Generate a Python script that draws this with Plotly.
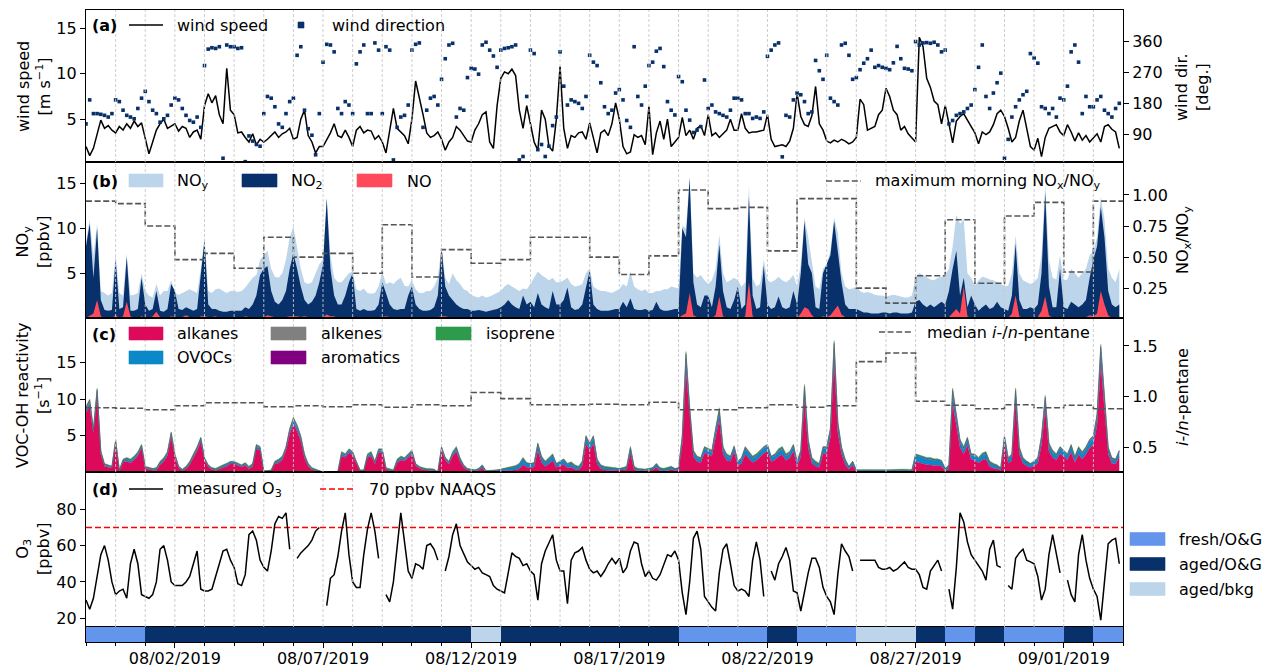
import plotly.graph_objects as go
import pandas as pd

# ---------------- DATA (3-hourly values, one row per day, 07/30 .. 09/02) ----------------
START = "2019-07-30"
END = "2019-09-03"

wind_speed = [
    [2.0, 1.0, 1.8, 3.5, 4.9, 4.0, 4.3, 3.8], [3.5, 4.2, 3.8, 4.5, 4.0, 4.8, 4.2, 4.6],
    [3.0, 1.2, 2.5, 3.8, 4.5, 5.0, 4.0, 4.3], [4.5, 3.7, 4.2, 4.0, 3.0, 3.6, 3.8, 2.8],
    [6.5, 7.8, 6.8, 7.6, 5.5, 4.5, 10.6, 6.0], [5.5, 3.5, 3.6, 3.0, 2.5, 3.4, 2.2, 2.8],
    [2.5, 2.8, 3.2, 3.6, 3.0, 3.4, 3.6, 4.0], [2.8, 3.0, 5.0, 6.0, 3.2, 2.5, 1.3, 2.0],
    [2.0, 2.8, 3.5, 4.5, 3.2, 3.0, 3.8, 3.0], [2.0, 3.8, 4.2, 3.5, 3.8, 3.7, 2.8, 3.2],
    [2.5, 1.3, 4.0, 6.2, 4.0, 3.6, 3.2, 2.3], [5.0, 9.2, 7.5, 5.5, 3.5, 3.0, 3.2, 3.6],
    [2.8, 1.6, 2.5, 3.0, 4.2, 3.8, 3.2, 2.6], [2.5, 3.8, 4.5, 5.5, 5.8, 2.5, 1.8, 6.5],
    [9.5, 10.2, 10.0, 10.5, 9.8, 6.0, 4.0, 6.5], [4.5, 2.5, 1.6, 6.0, 5.0, 2.0, 1.5, 5.0],
    [10.8, 4.0, 1.8, 3.2, 3.0, 3.5, 3.6, 2.8], [4.6, 3.0, 1.3, 3.5, 3.8, 3.2, 4.5, 6.8],
    [5.0, 2.0, 1.2, 1.4, 3.3, 3.0, 3.2, 2.2], [6.4, 1.1, 3.5, 4.8, 2.8, 5.0, 2.0, 2.5],
    [3.0, 5.2, 3.2, 3.8, 2.8, 4.0, 4.3, 3.2], [5.5, 3.2, 3.5, 3.0, 3.4, 3.8, 5.0, 3.8],
    [3.8, 5.6, 4.0, 3.5, 3.6, 3.6, 3.7, 3.8], [5.5, 2.8, 2.0, 2.1, 2.2, 2.0, 2.6, 4.0],
    [7.8, 5.3, 4.4, 4.2, 5.4, 8.6, 4.5, 3.8], [2.6, 2.4, 2.7, 2.5, 2.8, 2.6, 2.3, 2.5],
    [3.0, 7.2, 6.6, 3.8, 4.0, 4.2, 5.5, 6.0], [8.4, 7.5, 6.0, 5.5, 3.8, 4.2, 3.4, 3.0],
    [2.5, 14.0, 13.0, 9.5, 8.5, 7.0, 6.6, 4.5], [6.5, 4.5, 2.4, 4.8, 5.3, 5.6, 4.9, 4.3],
    [3.5, 2.3, 3.6, 3.3, 3.6, 4.4, 5.6, 6.0], [5.3, 4.0, 2.5, 3.0, 4.8, 6.0, 3.8, 2.0],
    [1.6, 2.9, 0.9, 3.0, 4.0, 4.2, 4.4, 3.6], [3.2, 4.4, 3.6, 2.6, 3.5, 2.7, 3.2, 2.5],
    [2.9, 3.4, 2.5, 4.2, 4.4, 3.9, 3.6, 1.8],
]

wind_dir = [
    [120, 190, 150, 150, 148, 145, 140, 150], [190, 185, 160, 145, 140, 135, 165, 195],
    [215, 185, 160, 150, 125, 135, 145, 175], [195, 190, 165, 145, 130, 125, 140, 110],
    [290, 338, 342, 340, 345, 20, 350, 345], [345, 340, 342, 10, 85, 70, 60, 55],
    [150, 200, 195, 170, 120, 110, 150, 185], [195, 320, 345, 160, 106, 87, 30, 150],
    [300, 352, 350, 330, 165, 150, 185, 175], [150, 295, 330, 350, 150, 150, 356, 335],
    [150, 345, 335, 15, 110, 140, 145, 175], [335, 352, 356, 110, 160, 195, 200, 175],
    [250, 310, 350, 355, 140, 165, 160, 255], [282, 280, 265, 350, 358, 335, 318, 285],
    [335, 340, 342, 345, 350, 15, 25, 200], [335, 325, 45, 60, 25, 55, 115, 140],
    [330, 230, 175, 190, 185, 180, 165, 200], [320, 300, 290, 240, 170, 150, 160, 210],
    [220, 190, 130, 110, 345, 200, 175, 230], [290, 300, 332, 340, 287, 185, 160, 146],
    [258, 243, 160, 131, 95, 102, 112, 248], [165, 175, 155, 150, 145, 140, 160, 195],
    [195, 190, 150, 150, 136, 140, 136, 155], [317, 335, 350, 356, 24, 145, 140, 190],
    [210, 205, 185, 150, 155, 305, 275, 250], [320, 195, 185, 175, 350, 355, 320, 250],
    [255, 278, 297, 310, 335, 285, 290, 285], [282, 278, 298, 346, 310, 282, 280, 275],
    [360, 350, 356, 357, 355, 358, 350, 330], [335, 120, 130, 145, 150, 155, 165, 175],
    [220, 285, 350, 200, 165, 210, 240, 268], [20, 75, 140, 170, 190, 205, 215, 325],
    [312, 297, 170, 165, 150, 165, 140, 195], [190, 230, 330, 350, 300, 150, 200, 170],
    [170, 190, 200, 160, 150, 140, 165, 180],
]

noy = [
    [8.5, 11.0, 7.0, 10.5, 3.0, 2.8, 2.5, 2.8], [7.0, 2.8, 2.5, 7.2, 2.5, 2.6, 2.8, 5.0],
    [3.0, 2.5, 2.3, 3.8, 2.5, 3.0, 3.0, 4.2], [2.8, 2.6, 2.8, 3.0, 3.2, 3.0, 2.8, 5.5],
    [9.0, 3.0, 2.8, 3.2, 3.3, 3.0, 2.8, 3.0], [3.0, 2.9, 3.0, 3.4, 4.0, 4.5, 4.8, 6.5],
    [7.0, 7.5, 5.5, 4.6, 4.5, 5.0, 6.5, 9.0], [10.2, 8.0, 5.5, 4.0, 3.8, 4.0, 5.0, 6.0],
    [6.5, 13.5, 7.0, 4.5, 4.0, 4.0, 4.5, 5.0], [5.2, 3.2, 3.0, 3.3, 2.8, 2.7, 2.8, 3.5],
    [5.2, 3.8, 4.0, 3.8, 4.2, 4.5, 3.6, 3.5], [4.2, 3.2, 2.8, 2.8, 3.0, 3.0, 3.5, 4.5],
    [8.0, 4.5, 3.8, 5.0, 4.2, 3.8, 3.2, 3.0], [2.6, 2.4, 2.3, 2.5, 2.3, 2.4, 2.6, 2.8],
    [3.0, 3.5, 3.8, 3.5, 3.2, 3.0, 3.3, 3.2], [3.8, 4.5, 5.2, 4.8, 4.5, 4.2, 4.5, 4.0],
    [4.0, 4.2, 4.5, 3.8, 3.5, 3.6, 3.8, 5.0], [5.5, 3.5, 3.2, 3.0, 3.0, 2.9, 2.8, 3.0],
    [3.2, 3.8, 3.5, 5.2, 3.5, 3.2, 3.0, 3.2], [2.8, 2.8, 3.0, 3.0, 3.2, 3.2, 3.5, 3.4],
    [3.3, 10.3, 10.0, 15.8, 5.0, 4.5, 4.8, 4.2], [3.8, 4.2, 5.5, 9.3, 5.0, 4.0, 4.2, 4.5],
    [4.2, 3.5, 4.0, 14.8, 4.5, 3.5, 3.8, 6.5], [4.2, 4.0, 4.2, 4.6, 4.2, 4.0, 4.3, 4.8],
    [3.5, 6.0, 11.2, 9.0, 6.5, 3.5, 3.2, 5.5], [6.0, 7.5, 11.2, 9.5, 5.0, 3.5, 3.2, 3.3],
    [3.5, 3.0, 2.8, 2.9, 2.8, 2.6, 2.5, 2.5], [2.4, 2.5, 2.6, 2.5, 2.4, 2.3, 2.3, 2.5],
    [4.6, 5.0, 4.8, 4.5, 4.3, 4.2, 4.5, 4.6], [4.8, 5.5, 8.0, 11.5, 10.5, 11.0, 5.0, 4.5],
    [3.6, 4.2, 4.6, 4.5, 4.3, 4.2, 4.0, 3.8], [3.5, 3.6, 5.0, 9.2, 5.0, 4.2, 4.0, 3.8],
    [4.0, 4.5, 7.0, 15.0, 6.5, 4.5, 4.3, 7.0], [4.2, 4.3, 5.5, 5.0, 4.5, 5.0, 5.5, 7.0],
    [7.5, 9.0, 13.5, 11.0, 5.5, 4.5, 4.0, 5.5],
]

no2 = [
    [8.0, 10.5, 4.5, 10.0, 2.0, 0.9, 0.8, 0.9], [6.5, 1.0, 1.2, 6.8, 0.8, 0.8, 1.0, 4.5],
    [1.5, 0.8, 1.0, 3.0, 0.8, 0.7, 1.0, 3.8], [3.0, 1.0, 0.9, 1.2, 1.0, 0.8, 1.0, 5.0],
    [8.7, 1.5, 1.0, 1.0, 0.8, 0.7, 0.7, 0.8], [0.8, 0.8, 0.8, 1.2, 1.0, 1.5, 2.5, 4.8],
    [5.5, 5.8, 3.0, 1.8, 1.5, 2.0, 3.0, 5.5], [7.2, 5.5, 3.5, 2.0, 1.5, 1.8, 2.5, 4.0],
    [6.0, 13.3, 5.5, 2.5, 1.5, 1.5, 2.5, 4.0], [5.0, 1.0, 0.8, 1.0, 0.8, 0.8, 0.9, 1.5],
    [4.0, 2.8, 1.5, 1.0, 0.9, 1.0, 1.0, 2.5], [3.5, 1.5, 1.0, 0.8, 0.8, 0.9, 1.2, 2.5],
    [7.8, 3.5, 2.5, 2.0, 1.5, 1.2, 1.0, 1.0], [0.8, 0.8, 0.9, 0.8, 0.7, 0.8, 0.9, 1.0],
    [1.2, 1.5, 2.0, 1.5, 1.2, 1.0, 2.5, 1.5], [1.8, 1.2, 2.8, 1.5, 1.2, 1.0, 3.0, 1.5],
    [1.5, 2.0, 3.4, 1.2, 0.9, 1.0, 1.5, 3.5], [5.3, 1.5, 1.0, 0.8, 0.8, 0.8, 0.9, 1.0],
    [1.0, 1.8, 1.2, 2.2, 1.0, 0.9, 0.9, 1.0], [0.8, 0.9, 1.8, 1.0, 0.8, 0.8, 0.9, 1.0],
    [1.0, 10.0, 9.0, 15.6, 4.0, 1.5, 1.2, 2.5], [2.5, 1.2, 3.5, 8.2, 3.0, 1.2, 1.0, 2.0],
    [3.5, 1.0, 1.5, 13.5, 2.5, 1.0, 1.2, 5.8], [1.5, 1.0, 1.2, 2.4, 1.2, 1.0, 1.2, 3.0],
    [1.5, 5.0, 10.8, 6.0, 5.0, 1.2, 1.0, 5.0], [6.0, 7.0, 10.8, 7.5, 4.0, 1.5, 1.0, 1.0],
    [1.0, 0.8, 0.6, 0.6, 0.5, 0.5, 0.5, 0.6], [0.6, 0.5, 0.6, 0.6, 0.5, 0.5, 0.5, 0.6],
    [1.8, 2.0, 1.5, 1.2, 1.5, 1.2, 1.5, 1.8], [1.5, 3.0, 5.5, 7.5, 2.5, 4.5, 1.2, 2.5],
    [1.5, 0.8, 1.2, 1.5, 1.0, 1.2, 1.8, 1.2], [1.0, 0.8, 2.5, 8.3, 2.0, 1.0, 1.0, 1.2],
    [1.0, 1.5, 5.0, 14.0, 3.5, 1.2, 1.2, 5.5], [1.2, 1.0, 1.8, 1.5, 1.2, 1.5, 2.0, 4.5],
    [6.5, 8.0, 12.4, 9.0, 3.0, 1.5, 1.2, 1.5],
]

no = [
    [0, 0.3, 0.5, 2.0, 0.2, 0, 0, 0], [0.3, 0, 0.2, 1.8, 0.2, 0, 0, 0.2],
    [0, 0, 0.2, 0.7, 0.1, 0, 0, 0.2], [0.1, 0, 0.1, 0.3, 0.1, 0, 0, 0.2],
    [0.2, 0.1, 0.1, 0.2, 0, 0, 0, 0], [0, 0, 0, 0.2, 0.1, 0, 0, 0.1],
    [0.1, 0.3, 0.2, 0.1, 0.1, 0.1, 0.1, 0.2], [0.2, 0.2, 0.1, 0.2, 0.1, 0, 0, 0.1],
    [0.1, 0.4, 0.2, 0.2, 0, 0, 0, 0], [0.1, 0, 0, 0.1, 0, 0, 0, 0],
    [0.1, 0.2, 0.1, 0, 0, 0, 0, 0.1], [0.1, 0, 0, 0, 0, 0, 0, 0.1],
    [0.2, 0.2, 0.1, 0.1, 0, 0, 0, 0], [0, 0, 0, 0, 0, 0, 0, 0],
    [0, 0, 0.1, 0.1, 0, 0, 0, 0], [0, 0, 0.1, 0, 0, 0, 0, 0],
    [0, 0, 0.1, 0, 0, 0, 0, 0], [0.1, 0, 0, 0, 0, 0, 0, 0],
    [0, 0, 0, 0.1, 0, 0, 0, 0], [0, 0, 0, 0, 0, 0, 0, 0],
    [0, 0.3, 0.5, 2.8, 0.3, 0.1, 0, 0.1], [0, 0, 0.3, 2.4, 0.2, 0, 0, 0],
    [0, 0, 0.2, 4.0, 0.2, 0, 0, 0.1], [0, 0, 0, 0.2, 0, 0, 0, 0.1],
    [0, 0.5, 1.2, 1.0, 0.3, 0, 0, 0.2], [0.1, 0.3, 0.8, 1.4, 0.4, 0.1, 0, 0],
    [0, 0, 0, 0, 0, 0, 0, 0], [0, 0, 0, 0, 0, 0, 0, 0],
    [0, 0.1, 0.1, 0, 0, 0, 0, 0], [0, 0.1, 0.5, 1.0, 0.5, 3.5, 0.2, 0],
    [0, 0, 0, 0, 0, 0, 0, 0], [0, 0, 0.5, 2.5, 0.2, 0, 0, 0],
    [0, 0.1, 0.8, 2.4, 0.3, 0, 0, 0.1], [0, 0, 0.1, 0.1, 0, 0, 0.1, 0.3],
    [0.2, 0.5, 3.0, 1.5, 0.3, 0, 0, 0],
]

max_morning_nox_noy = [0.95, 0.93, 0.75, 0.48, 0.53, 0.41, 0.66, 0.50, 0.53, 0.37,
                       0.76, 0.34, 0.56, 0.45, 0.48, 0.66, 0.66, 0.50, 0.36, 0.51,
                       1.04, 0.89, 0.90, 0.55, 0.97, 0.97, 0.25, 0.13, 0.35, 0.80,
                       0.29, 0.83, 0.94, 0.38, 0.95]

alkanes = [
    [8.2, 9.0, 5.3, 10.4, 2.4, 0.8, 0.65, 0.55], [3.9, 0.12, 1.35, 1.45, 1.25, 1.65, 2.2, 3.25],
    [0.5, 0.37, 0.23, 0.25, 1.0, 1.45, 2.25, 4.75], [2.05, 0.55, 0.17, 0.45, 1.0, 1.95, 2.9, 4.15],
    [1.6, 0.72, 0.35, 0.2, 0.4, 0.57, 0.8, 1.1], [1.1, 0.88, 0.7, 0.9, 0.4, 0.75, 3.2, 2.95],
    [0.08, 0.08, 0.12, 1.1, 1.25, 1.65, 2.9, 5.2], [6.55, 5.6, 4.2, 1.9, 0.75, 0.3, 0.18, 0.14],
    [0, 0, 0, 0, 0, 2.2, 2.0, 2.65], [2.3, 1.15, 0.12, 0.1, 1.95, 2.2, 1.1, 2.65],
    [2.65, 0.37, 0.18, 0.1, 1.25, 1.65, 1.5, 2.0], [2.5, 0.85, 0.5, 0.3, 0.2, 0.2, 0.18, 0],
    [2.95, 1.6, 1.1, 2.2, 2.8, 1.45, 0.6, 0.28], [0.2, 0.13, 0.25, 0.55, 0.05, 0.05, 0.13, 0.13],
    [0.13, 0.17, 0.2, 0.25, 0.27, 0.45, 1.0, 0.65], [0.57, 0.67, 2.9, 1.33, 0.74, 1.12, 1.54, 0.6],
    [0.86, 1.04, 0.58, 0.66, 0.37, 0.27, 0.82, 3.87], [3.0, 3.87, 1.1, 0.45, 0.29, 0.22, 0.22, 0.24],
    [0.22, 0.26, 0.37, 2.5, 0.32, 0.16, 0.12, 0.14], [0.22, 0.27, 0.66, 0.18, 0.13, 0.18, 0.37, 0.22],
    [0.26, 3.77, 13.9, 7.37, 2.08, 1.41, 1.27, 2.65], [2.36, 2.18, 4.68, 7.17, 2.45, 1.59, 1.46, 2.75],
    [0.84, 1.21, 2.4, 1.78, 1.31, 1.59, 2.03, 2.55], [2.84, 1.41, 1.64, 2.16, 2.35, 1.59, 1.93, 2.84],
    [0.84, 2.07, 9.92, 3.3, 1.21, 0.79, 0.6, 2.55], [2.55, 4.71, 15.35, 5.45, 2.45, 1.02, 0.37, 0.91],
    [0.03, 0.03, 0.02, 0.02, 0.02, 0.02, 0.03, 0.03], [0.03, 0.03, 0.03, 0.03, 0.03, 0.03, 0.03, 0.03],
    [1.42, 1.27, 1.17, 0.99, 0.96, 0.85, 0.93, 0.8], [0.17, 0.48, 9.43, 6.42, 3.32, 2.46, 3.66, 1.71],
    [1.61, 1.22, 1.64, 1.79, 0.74, 0.5, 0.45, 0.2], [3.88, 1.21, 1.54, 9.56, 2.45, 1.17, 0.82, 0.6],
    [0.84, 1.21, 3.73, 8.6, 2.82, 1.98, 1.65, 2.55], [2.07, 1.69, 2.69, 1.31, 2.35, 1.78, 2.4, 3.3],
    [3.78, 6.41, 14.75, 8.13, 2.45, 1.17, 1.11, 2.08],
]

ovocs = [
    [0.4, 0.5, 0.3, 0.5, 0.25, 0.15, 0.15, 0.12], [0.3, 0.1, 0.2, 0.25, 0.25, 0.25, 0.3, 0.3],
    [0.15, 0.12, 0.12, 0.15, 0.2, 0.25, 0.3, 0.4], [0.25, 0.15, 0.1, 0.15, 0.2, 0.25, 0.3, 0.35],
    [0.2, 0.15, 0.12, 0.12, 0.15, 0.18, 0.2, 0.2], [0.2, 0.18, 0.15, 0.2, 0.15, 0.2, 0.3, 0.3],
    [0.05, 0.05, 0.08, 0.2, 0.25, 0.25, 0.3, 0.4], [0.5, 0.45, 0.4, 0.3, 0.2, 0.12, 0.1, 0.08],
    [0, 0, 0, 0, 0, 0.3, 0.25, 0.3], [0.3, 0.2, 0.08, 0.08, 0.25, 0.3, 0.2, 0.3],
    [0.3, 0.12, 0.1, 0.08, 0.25, 0.25, 0.25, 0.3], [0.3, 0.2, 0.15, 0.12, 0.12, 0.12, 0.1, 0],
    [0.3, 0.25, 0.2, 0.3, 0.35, 0.25, 0.2, 0.12], [0.12, 0.1, 0.15, 0.3, 0.08, 0.08, 0.1, 0.1],
    [0.2, 0.25, 0.3, 0.4, 0.45, 0.55, 0.8, 0.5], [0.5, 0.5, 0.8, 0.6, 0.5, 0.6, 0.7, 0.45],
    [0.5, 0.6, 0.45, 0.5, 0.4, 0.35, 0.5, 0.8], [0.7, 0.8, 0.5, 0.35, 0.3, 0.3, 0.25, 0.25],
    [0.2, 0.25, 0.3, 0.7, 0.3, 0.2, 0.18, 0.18], [0.2, 0.25, 0.4, 0.25, 0.2, 0.25, 0.3, 0.2],
    [0.25, 0.9, 1.6, 1.0, 0.6, 0.5, 0.5, 0.6], [0.6, 0.6, 0.9, 1.0, 0.7, 0.6, 0.5, 0.6],
    [0.5, 0.6, 0.8, 0.7, 0.6, 0.6, 0.7, 0.7], [0.7, 0.6, 0.6, 0.7, 0.8, 0.6, 0.6, 0.7],
    [0.5, 0.7, 1.3, 0.8, 0.5, 0.45, 0.4, 0.7], [0.7, 0.9, 1.6, 1.0, 0.7, 0.5, 0.3, 0.45],
    [0.2, 0.2, 0.18, 0.2, 0.2, 0.2, 0.22, 0.2], [0.22, 0.2, 0.2, 0.22, 0.2, 0.22, 0.2, 0.2],
    [0.9, 0.85, 0.85, 0.8, 0.8, 0.75, 0.7, 0.65], [0.25, 0.4, 1.3, 1.0, 0.8, 0.7, 0.8, 0.6],
    [0.7, 0.6, 0.7, 0.7, 0.5, 0.45, 0.4, 0.3], [0.8, 0.6, 0.7, 1.2, 0.7, 0.55, 0.5, 0.45],
    [0.5, 0.6, 0.9, 1.2, 0.8, 0.7, 0.6, 0.7], [0.7, 0.6, 0.8, 0.6, 0.8, 0.7, 0.8, 0.9],
    [0.9, 1.1, 1.7, 1.2, 0.7, 0.55, 0.5, 0.7],
]

alkenes = [
    [0.2, 0.25, 0.15, 0.25, 0.08, 0.05, 0.05, 0.04], [0.1, 0.02, 0.05, 0.06, 0.06, 0.06, 0.08, 0.1],
    [0.04, 0.03, 0.03, 0.03, 0.05, 0.06, 0.08, 0.15], [0.07, 0.03, 0.02, 0.03, 0.05, 0.07, 0.1, 0.12],
    [0.06, 0.03, 0.02, 0.02, 0.03, 0.03, 0.04, 0.05], [0.05, 0.04, 0.03, 0.04, 0.03, 0.04, 0.1, 0.1],
    [0.01, 0.01, 0.01, 0.04, 0.05, 0.06, 0.1, 0.18], [0.22, 0.2, 0.15, 0.07, 0.04, 0.02, 0.01, 0.01],
    [0, 0, 0, 0, 0, 0.08, 0.07, 0.09], [0.08, 0.04, 0.01, 0.01, 0.07, 0.08, 0.04, 0.09],
    [0.09, 0.02, 0.01, 0.01, 0.05, 0.06, 0.06, 0.07], [0.08, 0.03, 0.02, 0.02, 0.01, 0.01, 0.01, 0],
    [0.1, 0.06, 0.04, 0.08, 0.1, 0.06, 0.03, 0.01], [0.01, 0.01, 0.01, 0.02, 0.01, 0.01, 0.01, 0.01],
    [0.01, 0.01, 0.02, 0.02, 0.02, 0.03, 0.05, 0.03], [0.03, 0.03, 0.12, 0.06, 0.04, 0.05, 0.07, 0.03],
    [0.04, 0.05, 0.03, 0.04, 0.03, 0.02, 0.04, 0.15], [0.12, 0.15, 0.05, 0.03, 0.02, 0.02, 0.02, 0.02],
    [0.01, 0.02, 0.02, 0.1, 0.02, 0.01, 0.01, 0.01], [0.01, 0.01, 0.03, 0.01, 0.01, 0.01, 0.02, 0.01],
    [0.02, 0.15, 0.45, 0.25, 0.08, 0.06, 0.05, 0.1], [0.09, 0.08, 0.18, 0.25, 0.1, 0.07, 0.06, 0.1],
    [0.04, 0.06, 0.1, 0.08, 0.06, 0.07, 0.08, 0.1], [0.11, 0.06, 0.07, 0.09, 0.1, 0.07, 0.08, 0.11],
    [0.04, 0.09, 0.35, 0.13, 0.06, 0.04, 0.03, 0.1], [0.1, 0.18, 0.5, 0.2, 0.1, 0.05, 0.02, 0.04],
    [0.01, 0.01, 0.01, 0.01, 0.01, 0.01, 0.01, 0.01], [0.01, 0.01, 0.01, 0.01, 0.01, 0.01, 0.01, 0.01],
    [0.05, 0.05, 0.04, 0.04, 0.04, 0.03, 0.03, 0.03], [0.01, 0.03, 0.35, 0.22, 0.12, 0.09, 0.13, 0.06],
    [0.06, 0.05, 0.07, 0.07, 0.04, 0.03, 0.02, 0.01], [0.15, 0.06, 0.07, 0.33, 0.1, 0.05, 0.04, 0.03],
    [0.04, 0.06, 0.15, 0.3, 0.12, 0.08, 0.07, 0.1], [0.09, 0.07, 0.11, 0.06, 0.1, 0.08, 0.1, 0.13],
    [0.15, 0.23, 0.5, 0.28, 0.1, 0.05, 0.05, 0.08],
]

aromatics = [
    [0.1, 0.12, 0.08, 0.12, 0.04, 0.03, 0.03, 0.02], [0.05, 0.01, 0.03, 0.03, 0.03, 0.03, 0.04, 0.05],
    [0.02, 0.02, 0.02, 0.02, 0.03, 0.03, 0.04, 0.08], [0.04, 0.02, 0.01, 0.02, 0.03, 0.04, 0.05, 0.06],
    [0.03, 0.02, 0.01, 0.01, 0.02, 0.02, 0.02, 0.03], [0.03, 0.02, 0.02, 0.02, 0.02, 0.02, 0.05, 0.05],
    [0.01, 0.01, 0.01, 0.02, 0.03, 0.03, 0.05, 0.09], [0.11, 0.1, 0.08, 0.04, 0.02, 0.01, 0.01, 0.01],
    [0, 0, 0, 0, 0, 0.04, 0.04, 0.05], [0.04, 0.02, 0.01, 0.01, 0.04, 0.04, 0.02, 0.05],
    [0.05, 0.01, 0.01, 0.01, 0.03, 0.03, 0.03, 0.04], [0.04, 0.02, 0.01, 0.01, 0.01, 0.01, 0.01, 0],
    [0.05, 0.03, 0.02, 0.04, 0.05, 0.03, 0.02, 0.01], [0.01, 0.01, 0.01, 0.01, 0.01, 0.01, 0.01, 0.01],
    [0.01, 0.01, 0.01, 0.01, 0.01, 0.02, 0.03, 0.02], [0.02, 0.02, 0.06, 0.03, 0.02, 0.03, 0.04, 0.02],
    [0.02, 0.03, 0.02, 0.02, 0.02, 0.01, 0.02, 0.08], [0.06, 0.08, 0.03, 0.02, 0.01, 0.01, 0.01, 0.01],
    [0.01, 0.01, 0.01, 0.05, 0.01, 0.01, 0.01, 0.01], [0.01, 0.01, 0.01, 0.01, 0.01, 0.01, 0.01, 0.01],
    [0.01, 0.08, 0.25, 0.13, 0.04, 0.03, 0.03, 0.05], [0.05, 0.04, 0.09, 0.13, 0.05, 0.04, 0.03, 0.05],
    [0.02, 0.03, 0.05, 0.04, 0.03, 0.04, 0.04, 0.05], [0.05, 0.03, 0.04, 0.05, 0.05, 0.04, 0.04, 0.05],
    [0.02, 0.04, 0.18, 0.07, 0.03, 0.02, 0.02, 0.05], [0.05, 0.09, 0.25, 0.1, 0.05, 0.03, 0.01, 0.02],
    [0.01, 0.01, 0.01, 0.01, 0.01, 0.01, 0.01, 0.01], [0.01, 0.01, 0.01, 0.01, 0.01, 0.01, 0.01, 0.01],
    [0.03, 0.03, 0.02, 0.02, 0.02, 0.02, 0.02, 0.02], [0.01, 0.01, 0.17, 0.11, 0.06, 0.05, 0.06, 0.03],
    [0.03, 0.03, 0.04, 0.04, 0.02, 0.02, 0.01, 0.01], [0.07, 0.03, 0.04, 0.16, 0.05, 0.03, 0.02, 0.02],
    [0.02, 0.03, 0.07, 0.15, 0.06, 0.04, 0.03, 0.05], [0.04, 0.04, 0.05, 0.03, 0.05, 0.04, 0.05, 0.07],
    [0.07, 0.11, 0.25, 0.14, 0.05, 0.03, 0.02, 0.04],
]

isoprene = [
    [0.1, 0.1, 0.15, 0.2, 0.2, 0.15, 0.1, 0.08], [0.1, 0.05, 0.15, 0.2, 0.2, 0.2, 0.15, 0.1],
    [0.08, 0.06, 0.1, 0.15, 0.2, 0.2, 0.15, 0.12], [0.1, 0.06, 0.1, 0.15, 0.2, 0.2, 0.15, 0.1],
    [0.1, 0.08, 0.1, 0.15, 0.2, 0.2, 0.15, 0.1], [0.1, 0.08, 0.1, 0.15, 0.2, 0.2, 0.15, 0.1],
    [0.05, 0.05, 0.08, 0.15, 0.2, 0.2, 0.15, 0.12], [0.12, 0.12, 0.15, 0.2, 0.2, 0.15, 0.1, 0.06],
    [0, 0, 0, 0, 0, 0.2, 0.15, 0.1], [0.1, 0.08, 0.08, 0.1, 0.2, 0.2, 0.15, 0.1],
    [0.1, 0.08, 0.1, 0.1, 0.2, 0.2, 0.15, 0.1], [0.1, 0.08, 0.1, 0.15, 0.15, 0.15, 0.1, 0],
    [0.1, 0.08, 0.12, 0.2, 0.2, 0.2, 0.15, 0.08], [0.06, 0.05, 0.08, 0.12, 0.05, 0.05, 0.05, 0.05],
    [0.05, 0.06, 0.08, 0.12, 0.15, 0.15, 0.12, 0.1], [0.08, 0.08, 0.12, 0.18, 0.2, 0.2, 0.15, 0.1],
    [0.08, 0.08, 0.12, 0.18, 0.18, 0.15, 0.12, 0.1], [0.1, 0.1, 0.12, 0.15, 0.18, 0.15, 0.1, 0.08],
    [0.06, 0.06, 0.1, 0.15, 0.15, 0.12, 0.08, 0.06], [0.06, 0.06, 0.1, 0.15, 0.15, 0.15, 0.1, 0.06],
    [0.06, 0.1, 0.3, 0.25, 0.2, 0.2, 0.15, 0.1], [0.1, 0.1, 0.15, 0.25, 0.2, 0.2, 0.15, 0.1],
    [0.1, 0.1, 0.15, 0.2, 0.2, 0.2, 0.15, 0.1], [0.1, 0.1, 0.15, 0.2, 0.2, 0.2, 0.15, 0.1],
    [0.1, 0.1, 0.25, 0.2, 0.2, 0.2, 0.15, 0.1], [0.1, 0.12, 0.3, 0.25, 0.2, 0.2, 0.1, 0.08],
    [0.06, 0.05, 0.08, 0.1, 0.12, 0.1, 0.08, 0.06], [0.06, 0.05, 0.08, 0.12, 0.14, 0.12, 0.08, 0.06],
    [0.1, 0.1, 0.12, 0.15, 0.18, 0.15, 0.12, 0.1], [0.06, 0.08, 0.25, 0.25, 0.2, 0.2, 0.15, 0.1],
    [0.1, 0.1, 0.15, 0.2, 0.2, 0.2, 0.12, 0.08], [0.1, 0.1, 0.15, 0.25, 0.2, 0.2, 0.12, 0.1],
    [0.1, 0.1, 0.15, 0.25, 0.2, 0.2, 0.15, 0.1], [0.1, 0.1, 0.15, 0.2, 0.2, 0.2, 0.15, 0.1],
    [0.1, 0.15, 0.3, 0.25, 0.2, 0.2, 0.12, 0.1],
]

median_i_n_pentane = [0.89, 0.885, 0.87, 0.91, 0.94, 0.94, 0.90, 0.91, 0.90, 0.92,
                      0.895, 0.92, 0.91, 1.04, 0.98, 0.92, 0.92, 0.925, 0.92, 0.945,
                      0.87, 0.87, 0.89, 0.92, 0.895, 0.91, 1.345, 1.43, 0.955, 0.915,
                      0.88, 0.92, 0.89, 0.915, 0.88]

o3 = [
    [30, 25, 31, 42, 55, 60, 52, 40], [33, 35, 36, 31, 50, 58, 50, 33],
    [32, 31, 33, 40, 58, 60, 52, 40], [38, 38, 38, 40, 43, 50, 57, 36],
    [35, 35, 36, 43, 50, 57, 58, 52], [48, 39, 38, 44, 66, 68, 63, 52],
    [48, 46, 57, 72, 76, 75, 78, 58], [None, 53, 56, 58, 60, 63, 68, 70],
    [None, 27, 42, 44, 54, 68, 78, 55], [40, 37, 37, 55, 69, 78, 68, 53],
    [None, 33, 29, 40, 58, 78, 62, 46], [42, 50, 49, 47, 60, 61, 58, 52],
    [None, 46, 54, 66, 72, 60, 55, 51], [49, 47, 48, 45, 44, 43, 38, 36],
    [35, 34, 45, 56, 54, 53, 49, 50], [46, 44, 30, 50, 57, 62, 66, 52],
    [46, 46, 28, 52, 56, 57, 59, 52], [47, 45, 46, 43, 46, 50, 53, 50],
    [53, 45, 48, 57, 62, 61, 50, 43], [46, 42, 41, 44, 49, 55, 54, 57],
    [52, 34, 22, 40, 64, 68, 58, 32], [29, 26, 24, 45, 58, 61, 50, 38],
    [35, 36, 35, 32, 52, 62, 52, 32], [None, 46, 41, 50, 54, 59, 52, 35],
    [34, 24, 35, 45, 53, 53, 48, 37], [32, 29, 22, 44, 61, 57, 54, 46],
    [None, 52, 52, 52, 52, 52, 48, 47], [47, 48, 46, 47, 49, 51, 48, 47],
    [47, 44, 37, 36, 46, 49, 52, 46], [None, 36, 25, 48, 78, 73, 62, 55],
    [52, 49, 46, 41, 58, 63, 49, 48], [None, 38, 36, 53, 56, 58, 52, 51],
    [50, 43, 30, 36, 55, 66, 56, 45], [None, 41, 33, 29, 55, 66, 52, 42],
    [36, 32, 19, 40, 61, 63, 64, 50],
]

naaqs_ppbv = 70

class_start = ["2019-07-30", "2019-08-01", "2019-08-12", "2019-08-13", "2019-08-19",
               "2019-08-22", "2019-08-23", "2019-08-25", "2019-08-27", "2019-08-28",
               "2019-08-29", "2019-08-30", "2019-09-01", "2019-09-02"]
class_label = ["fresh/O&G", "aged/O&G", "aged/bkg", "aged/O&G", "fresh/O&G",
               "aged/O&G", "fresh/O&G", "aged/bkg", "aged/O&G", "fresh/O&G",
               "aged/O&G", "fresh/O&G", "aged/O&G", "fresh/O&G"]

# ---------------- STYLE ----------------
NAVY = "#08306b"
LIGHT = "#bcd5ea"
RED_NO = "#ff4a5c"
C_ALK = "#dd0a5c"
C_OVOC = "#0a88c8"
C_ALKE = "#808080"
C_ARO = "#800080"
C_ISO = "#2e9a4c"
C_FRESH = "#6495ed"
CLASS_COLORS = {"fresh/O&G": C_FRESH, "aged/O&G": NAVY, "aged/bkg": LIGHT}
FONT = "DejaVu Sans"
FS = 16


def flat(rows):
    return [v for r in rows for v in r]


times = pd.date_range(START, periods=35 * 8, freq="3h")
days = pd.date_range(START, periods=35, freq="D")
step_x = list(days) + [pd.Timestamp(END)]

W, H = 1266, 669
L, R, T, B = 86, 1123, 10, 642


def fx(x):
    return (x - L) / (R - L)


def fy(y):
    return (B - y) / (B - T)


dom_a = [fy(162), 1.0]
dom_b = [fy(318), fy(162)]
dom_c = [fy(472), fy(318)]
dom_d = [fy(627), fy(472)]
dom_e = [0.0, fy(627)]

fig = go.Figure()

# (a)
fig.add_trace(go.Scatter(x=times, y=flat(wind_speed), mode="lines", xaxis="x", yaxis="y",
                         line=dict(color="black", width=1.5), showlegend=False))
fig.add_trace(go.Scatter(x=times, y=flat(wind_dir), mode="markers", xaxis="x", yaxis="y6",
                         marker=dict(symbol="square", size=3.6, color=NAVY, line=dict(width=0)),
                         showlegend=False))
# (b)
for arr, col in [(noy, LIGHT), (no2, NAVY), (no, RED_NO)]:
    fig.add_trace(go.Scatter(x=times, y=flat(arr), mode="lines", fill="tozeroy", fillcolor=col,
                             line=dict(width=0, color=col), xaxis="x2", yaxis="y2",
                             showlegend=False))
step_b = max_morning_nox_noy + [max_morning_nox_noy[-1]]
fig.add_trace(go.Scatter(x=step_x, y=step_b, mode="lines", line_shape="hv", xaxis="x2", yaxis="y7",
                         line=dict(color="#555555", width=1.6, dash="6px,2.6px"), showlegend=False))
# (c)
for arr, col in [(alkanes, C_ALK), (ovocs, C_OVOC), (alkenes, C_ALKE), (aromatics, C_ARO),
                 (isoprene, C_ISO)]:
    fig.add_trace(go.Scatter(x=times, y=flat(arr), mode="lines", stackgroup="voc", fillcolor=col,
                             line=dict(width=0.4, color=col), xaxis="x3", yaxis="y3",
                             showlegend=False))
step_c = median_i_n_pentane + [median_i_n_pentane[-1]]
fig.add_trace(go.Scatter(x=step_x, y=step_c, mode="lines", line_shape="hv", xaxis="x3", yaxis="y8",
                         line=dict(color="#555555", width=1.6, dash="6px,2.6px"), showlegend=False))
# (d)
fig.add_trace(go.Scatter(x=[START, END], y=[naaqs_ppbv, naaqs_ppbv], mode="lines", xaxis="x4",
                         yaxis="y4", line=dict(color="red", width=1.5, dash="6px,3px"),
                         showlegend=False))
fig.add_trace(go.Scatter(x=times, y=flat(o3), mode="lines", xaxis="x4", yaxis="y4",
                         line=dict(color="black", width=1.5), connectgaps=False, showlegend=False))
# class bar
starts = pd.to_datetime(class_start)
ends = list(starts[1:]) + [pd.Timestamp(END)]
centers = [s + (e - s) / 2 for s, e in zip(starts, ends)]
widths = [(e - s).total_seconds() * 1000 for s, e in zip(starts, ends)]
fig.add_trace(go.Bar(x=centers, y=[1] * len(centers), width=widths, base=0,
                     marker=dict(color=[CLASS_COLORS[c] for c in class_label], line=dict(width=0)),
                     xaxis="x5", yaxis="y5", showlegend=False))

# ---------------- AXES ----------------
xbase = dict(type="date", range=[START, END], showgrid=False, showline=True, mirror=True,
             linecolor="black", linewidth=1.3, zeroline=False, showticklabels=False, ticks="")
ybase = dict(showgrid=False, zeroline=False, showline=True, mirror=True, linecolor="black",
             linewidth=1.3, ticks="outside", ticklen=5, tickwidth=1, tickcolor="black",
             tickfont=dict(size=FS, family=FONT, color="black"))
yright = dict(showgrid=False, zeroline=False, showline=False, side="right", ticks="outside",
              ticklen=5, tickwidth=1, tickcolor="black",
              tickfont=dict(size=FS, family=FONT, color="black"))

fig.update_layout(
    width=W, height=H, margin=dict(l=L, r=W - R, t=T, b=H - B, autoexpand=False),
    paper_bgcolor="white", plot_bgcolor="white",
    font=dict(family=FONT, size=FS, color="black"),
    showlegend=False, bargap=0,
    xaxis=dict(xbase, anchor="y"),
    xaxis2=dict(xbase, anchor="y2", matches="x"),
    xaxis3=dict(xbase, anchor="y3", matches="x"),
    xaxis4=dict(xbase, anchor="y4", matches="x"),
    xaxis5=dict(xbase, anchor="y5", matches="x", showticklabels=True, ticks="outside", ticklen=5,
                tickwidth=1, tickcolor="black", tick0="2019-08-02", dtick=5 * 86400000,
                tickformat="%m/%d/%Y", tickfont=dict(size=FS, family=FONT, color="black"),
                ticklabelstandoff=-3,
                minor=dict(dtick=86400000, ticks="outside", ticklen=3, tickwidth=1,
                           tickcolor="black", showgrid=False)),
    yaxis=dict(ybase, domain=dom_a, anchor="x", range=[0.3, 17.0], tickvals=[5, 10, 15]),
    yaxis2=dict(ybase, domain=dom_b, anchor="x2", range=[0, 17.4], tickvals=[5, 10, 15]),
    yaxis3=dict(ybase, domain=dom_c, anchor="x3", range=[0, 21.1], tickvals=[5, 10, 15]),
    yaxis4=dict(ybase, domain=dom_d, anchor="x4", range=[15.2, 100.5], tickvals=[20, 40, 60, 80]),
    yaxis5=dict(ybase, domain=dom_e, anchor="x5", range=[0, 1], showticklabels=False, ticks=""),
    yaxis6=dict(yright, overlaying="y", anchor="x", range=[9, 452], tickvals=[90, 180, 270, 360]),
    yaxis7=dict(yright, overlaying="y2", anchor="x2", range=[0.01, 1.265],
                tickvals=[0.25, 0.5, 0.75, 1.0], tickformat=".2f"),
    yaxis8=dict(yright, overlaying="y3", anchor="x3", range=[0.256, 1.776],
                tickvals=[0.5, 1.0, 1.5], tickformat=".1f"),
)

shapes = []
# daily dashed grid lines drawn above the data
for d in days[1:]:
    shapes.append(dict(type="line", xref="x", yref="paper", x0=d, x1=d, y0=dom_d[0], y1=1.0,
                       line=dict(color="#c8c8c8", width=0.9, dash="3px,2px"), layer="above"))

annotations = []


def txt(x, y, s, size=FS, anchor="left", angle=0):
    annotations.append(dict(xref="paper", yref="paper", x=fx(x), y=fy(y), text=s, showarrow=False,
                            xanchor=anchor, yanchor="middle", textangle=angle,
                            font=dict(size=size, family=FONT, color="black")))


def rect(x0, x1, y0, y1, col):
    shapes.append(dict(type="rect", xref="paper", yref="paper", x0=fx(x0), x1=fx(x1), y0=fy(y1),
                       y1=fy(y0), fillcolor=col, line=dict(width=0.6, color=col), layer="above"))


def hline(x0, x1, y, col, dash="solid", width=1.5):
    shapes.append(dict(type="line", xref="paper", yref="paper", x0=fx(x0), x1=fx(x1), y0=fy(y),
                       y1=fy(y), line=dict(color=col, width=width, dash=dash), layer="above"))


# (a) legend
txt(90, 25, "<b>(a)</b>")
hline(129, 163, 25, "black")
txt(175, 25, "wind speed")
rect(298, 304, 22, 28, NAVY)
txt(330, 25, "wind direction")
# (b) legend
txt(90, 181, "<b>(b)</b>")
rect(129, 163, 174, 187, LIGHT)
txt(175, 181, "NO<sub>y</sub>")
rect(242, 277, 174, 187, NAVY)
txt(289, 181, "NO<sub>2</sub>")
rect(357, 392, 174, 187, RED_NO)
txt(405, 181, "NO")
hline(826, 861, 181, "#555555", dash="6px,2.6px", width=1.6)
txt(873, 181, "maximum morning NO<sub>x</sub>/NO<sub>y</sub>")
# (c) legend
txt(90, 334, "<b>(c)</b>")
rect(129, 163, 327, 340, C_ALK)
txt(175, 333, "alkanes")
rect(271, 306, 327, 340, C_ALKE)
txt(319, 333, "alkenes")
rect(436, 471, 327, 340, C_ISO)
txt(484, 333, "isoprene")
rect(129, 163, 351, 364, C_OVOC)
txt(175, 357, "OVOCs")
rect(271, 306, 351, 364, C_ARO)
txt(319, 357, "aromatics")
hline(879, 913, 332, "#555555", dash="6px,2.6px", width=1.6)
txt(925, 332, "median <i>i</i>-/<i>n</i>-pentane")
# (d) legend
txt(90, 489, "<b>(d)</b>")
hline(129, 163, 489, "black")
txt(175, 489, "measured O<sub>3</sub>")
hline(320, 355, 489, "red", dash="6px,3px")
txt(367, 489, "70 ppbv NAAQS")
# class legend
for i, lab in enumerate(["fresh/O&G", "aged/O&G", "aged/bkg"]):
    yc = 539 + 25 * i
    rect(1130, 1165, yc - 6.5, yc + 6.5, CLASS_COLORS[lab])
    txt(1177, yc, lab)

# axis titles
txt(34, 87, "wind speed<br>[m s<sup>−1</sup>]", anchor="center", angle=-90)
txt(33, 242, "NO<sub>y</sub><br>[ppbv]", anchor="center", angle=-90)
txt(33, 396, "VOC-OH reactivity<br>[s<sup>−1</sup>]", anchor="center", angle=-90)
txt(33, 549, "O<sub>3</sub><br>[ppbv]", anchor="center", angle=-90)
txt(1192, 87, "wind dir.<br>[deg.]", anchor="center", angle=-90)
txt(1183, 240, "NO<sub>x</sub>/NO<sub>y</sub>", anchor="center", angle=-90)
txt(1183, 397, "<i>i</i>-/<i>n</i>-pentane", anchor="center", angle=-90)

fig.update_layout(shapes=shapes, annotations=annotations)
fig.write_html("out.html", config={"displayModeBar": False},
               post_script="document.body.style.margin='0';document.body.style.padding='0';"
                           "document.body.style.overflow='hidden';")
